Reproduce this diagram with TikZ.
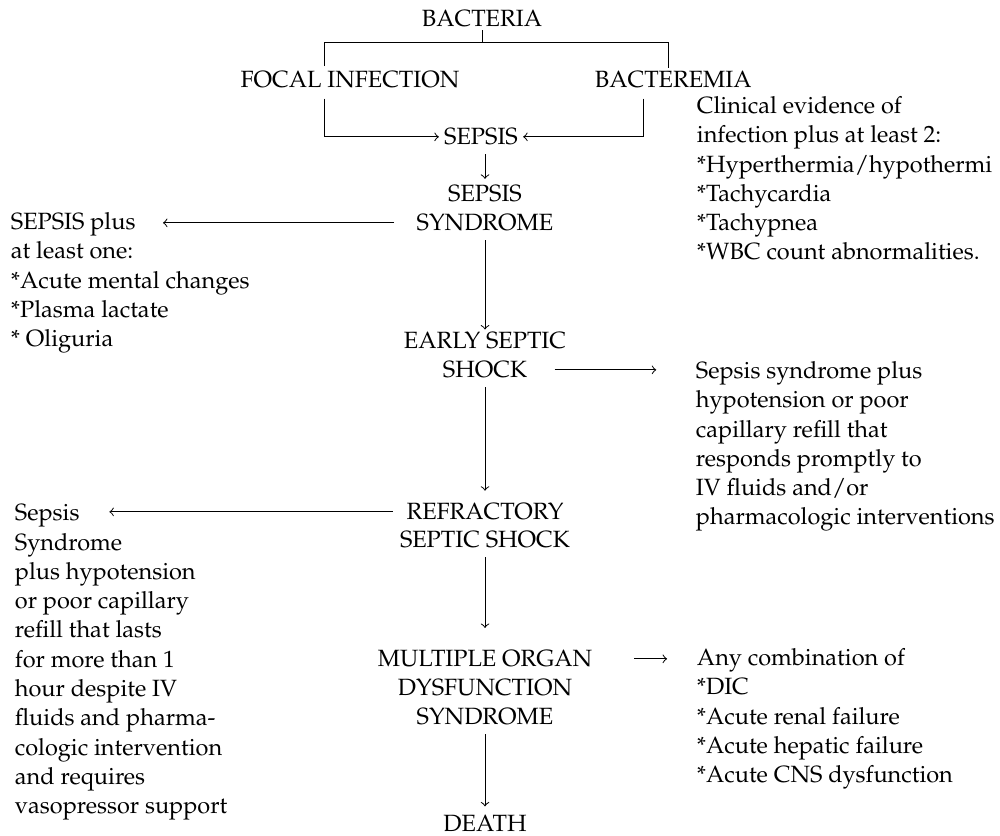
\documentclass[tikz,border=0pt]{standalone}
\usepackage[T1]{fontenc}
\usepackage{mathpazo}
\tikzset{
  stage/.style={anchor=mid,inner sep=1pt,font=\fontsize{9.6}{12}\selectfont},
  note/.style={anchor=mid west,inner sep=1pt,font=\fontsize{9.6}{12}\selectfont},
  link/.style={->,thin},
}
\begin{document}
\begin{tikzpicture}[x=0.01434cm,y=-0.01434cm]
  \useasboundingbox (0,-2) rectangle (1000,834);
  % main column
  \node[stage] (bac) at (482,19) {BACTERIA};
  \node[stage] (foc) at (350,80) {FOCAL INFECTION};
  \node[stage,anchor=mid west] (bte) at (592,80) {BACTEREMIA};
  \node[stage] (sep) at (481,137) {SEPSIS};
  \node[stage] (sep2) at (485,194) {SEPSIS};
  \node[stage] (syn) at (485,223) {SYNDROME};
  \node[stage] (ear) at (485,341) {EARLY SEPTIC};
  \node[stage] (sho) at (485,370) {SHOCK};
  \node[stage] (ref) at (485,512) {REFRACTORY};
  \node[stage] (ssh) at (485,540) {SEPTIC SHOCK};
  \node[stage] (mul) at (485,659) {MULTIPLE ORGAN};
  \node[stage] (dys) at (485,688) {DYSFUNCTION};
  \node[stage] (mods) at (485,717) {SYNDROME};
  \node[stage] (dea) at (485,824) {DEATH};
  % side notes, one line each
  \foreach \w [count=\i from 0] in {Clinical evidence of, infection plus at least 2:,
      *Hyperthermia/hypothermi, *Tachycardia, *Tachypnea, *WBC count abnormalities.}{
    \node[note] (r\i) at (694,106+29.2*\i) {\w};
  }
  \foreach \w [count=\i from 0] in {SEPSIS plus, at least one:, *Acute mental changes,
      *Plasma lactate, * Oliguria}{
    \node[note] (a\i) at (8,222+29.2*\i) {\w};
  }
  \foreach \w [count=\i from 0] in {Sepsis syndrome plus, hypotension or poor,
      capillary refill that, responds promptly to, IV fluids and/or,
      pharmacologic interventions}{
    \node[note] (b\i) at (693,371+29.2*\i) {\w};
  }
  \foreach \w [count=\i from 0] in {Sepsis, Syndrome, plus hypotension,
      or poor capillary, refill that lasts, for more than 1, hour despite IV,
      fluids and pharma-, cologic intervention, and requires, vasopressor support}{
    \node[note] (c\i) at (12,513+29.3*\i) {\w};
  }
  \foreach \w [count=\i from 0] in {Any combination of, *DIC, *Acute renal failure,
      *Acute hepatic failure, *Acute CNS dysfunction}{
    \node[note] (d\i) at (694,658+29.2*\i) {\w};
  }
  % bracket and joins
  \coordinate (jl) at (324,40);
  \coordinate (jr) at (668,40);
  \coordinate (jb) at (643,40);
  \draw (bac.south) -- (bac.south |- jl);
  \draw[shorten <=1pt] (jl |- foc.north) |- (jr) -- (jr |- bte.north);
  \draw[link,shorten <=3pt,shorten >=1pt] (jl |- foc.south) |- (sep.west);
  \draw[link,shorten <=3pt,shorten >=1pt] (jb |- bte.south) |- (sep.east);
  % downward links
  \draw[link,shorten <=2.5pt,shorten >=1.5pt] (sep2.north |- sep.south) -- (sep2.north);
  \draw[link,shorten <=2.5pt] (syn.south) -- (ear.north);
  \draw[link,shorten <=2.5pt,shorten >=4pt] (sho.south) -- (ref.north);
  \draw[link,shorten <=2.5pt,shorten >=8pt] (ssh.south) -- (mul.north);
  \draw[link,shorten <=2.5pt,shorten >=2.5pt] (mods.south) -- (dea.north);
  % side links
  \draw[link,shorten <=8pt,shorten >=10pt] (syn.west) -- (a0.east |- syn.west);
  \draw[link,shorten <=10pt,shorten >=15pt] (sho.east) -- (b0.west |- sho.east);
  \draw[link,shorten <=4.5pt,shorten >=11pt] (ref.west) -- (c0.east |- ref.west);
  \draw[link,shorten <=16pt,shorten >=11pt] (mul.east) -- (d0.west |- mul.east);
\end{tikzpicture}
\end{document}
